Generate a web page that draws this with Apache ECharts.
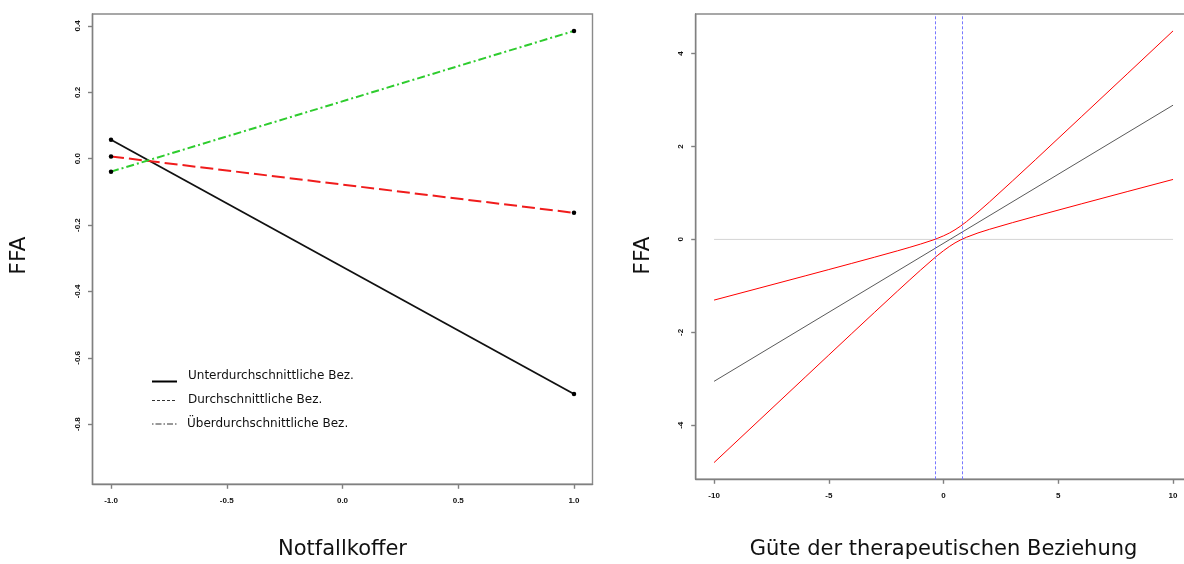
<!DOCTYPE html>
<html>
<head>
<meta charset="utf-8">
<script src="https://cdn.jsdelivr.net/npm/echarts@6/dist/echarts.min.js"></script>
<style>
html,body{margin:0;padding:0;background:#fff;}
#chart{width:1184px;height:564px;}
</style>
</head>
<body>
<div id="chart"></div>
<script>
// ---- Left panel data (Notfallkoffer) ----
const notfallX = [-1, 1];
const unterValues = [0.057, -0.709];
const durchValues = [0.007, -0.163];
const ueberValues = [-0.039, 0.385];
const leftXTicks = [-1, -0.5, 0, 0.5, 1];
const leftYTicks = [-0.8, -0.6, -0.4, -0.2, 0, 0.2, 0.4];
const legendNames = ['Unterdurchschnittliche Bez.', 'Durchschnittliche Bez.', 'Überdurchschnittliche Bez.'];

// ---- Right panel data (Güte der therapeutischen Beziehung) ----
const guteX = [-10, -8, -6, -5, -4, -3, -2, -1.5, -1, -0.5, -0.36, -0.25, 0, 0.25, 0.5, 0.75, 0.82, 1, 1.5, 2, 3, 4, 6, 8, 10];
const upperBand = [-1.306, -1.044, -0.781, -0.649, -0.516, -0.382, -0.245, -0.174, -0.100, -0.020, 0.005, 0.026, 0.077, 0.136, 0.207, 0.289, 0.314, 0.382, 0.588, 0.805, 1.256, 1.713, 2.636, 3.560, 4.486];
const lowerBand = [-4.802, -3.876, -2.951, -2.488, -2.026, -1.566, -1.109, -0.883, -0.660, -0.444, -0.385, -0.340, -0.243, -0.154, -0.075, -0.009, 0.007, 0.046, 0.139, 0.217, 0.360, 0.497, 0.764, 1.028, 1.290];
const regX = [-10, 10];
const regY = [-3.054, 2.888];
const zeroX = [-10, 10];
const zeroY = [0, 0];
const jnBounds = [-0.36, 0.83];
const rightXTicks = [-10, -5, 0, 5, 10];
const rightYTicks = [-4, -2, 0, 2, 4];

const pairs = (xs, ys) => xs.map((x, i) => [x, ys[i]]);

const tickFont = {fontFamily: 'Liberation Sans', fontWeight: 'bold', fontSize: 8, color: '#111'};
const axisLineStyle = {color: '#808080', width: 1.4};
const titleFont = 'DejaVu Sans';

function xAxisCfg(gridIndex, min, max, ticks, fmt, name, gap) {
  return {
    type: 'value', gridIndex, min, max,
    splitLine: {show: false},
    axisLine: {show: true, onZero: false, lineStyle: axisLineStyle},
    axisTick: {show: true, length: 4.5, lineStyle: axisLineStyle, customValues: ticks},
    axisLabel: Object.assign({margin: 12.5, customValues: ticks, formatter: fmt}, tickFont),
    name, nameLocation: 'middle', nameGap: gap,
    nameTextStyle: {fontFamily: titleFont, fontSize: 21, color: '#111'}
  };
}
function yAxisCfg(gridIndex, min, max, ticks, fmt) {
  return {
    type: 'value', gridIndex, min, max,
    splitLine: {show: false},
    axisLine: {show: true, onZero: false, lineStyle: axisLineStyle},
    axisTick: {show: true, length: 4.5, lineStyle: axisLineStyle, customValues: ticks},
    axisLabel: Object.assign({margin: 10.5, rotate: 90, customValues: ticks, formatter: fmt}, tickFont)
  };
}

const chart = echarts.init(document.getElementById('chart'));
const option = {
  backgroundColor: '#fff',
  animation: false,
  grid: [
    {left: 92.5, top: 14, width: 500, height: 470.3, show: true, borderColor: '#8a8a8a', borderWidth: 1.4, containLabel: false, outerBoundsMode: 'none'},
    {left: 695.7, top: 14, width: 495.7, height: 465.3, show: true, borderColor: '#8a8a8a', borderWidth: 1.4, containLabel: false, outerBoundsMode: 'none'}
  ],
  xAxis: [
    xAxisCfg(0, -1.08, 1.08, leftXTicks, v => v.toFixed(1), 'Notfallkoffer', 55),
    xAxisCfg(1, -10.8, 10.8, rightXTicks, v => String(v), 'Güte der therapeutischen Beziehung', 60)
  ],
  yAxis: [
    yAxisCfg(0, -0.981, 0.436, leftYTicks, v => v.toFixed(1)),
    yAxisCfg(1, -5.162, 4.85, rightYTicks, v => String(v))
  ],
  series: [
    {name: legendNames[0], type: 'line', xAxisIndex: 0, yAxisIndex: 0, data: pairs(notfallX, unterValues),
     lineStyle: {color: '#111', width: 1.8}, symbol: 'circle', symbolSize: 4.5, itemStyle: {color: '#000'}, z: 3},
    {name: legendNames[1], type: 'line', xAxisIndex: 0, yAxisIndex: 0, data: pairs(notfallX, durchValues),
     lineStyle: {color: '#f01c1c', width: 2, type: [13, 5]}, symbol: 'circle', symbolSize: 4.5, itemStyle: {color: '#000'}, z: 3},
    {name: legendNames[2], type: 'line', xAxisIndex: 0, yAxisIndex: 0, data: pairs(notfallX, ueberValues),
     lineStyle: {color: '#2ecc2e', width: 2, type: [8, 3, 2, 3]}, symbol: 'circle', symbolSize: 4.5, itemStyle: {color: '#000'}, z: 3},

    {name: 'zero', type: 'line', xAxisIndex: 1, yAxisIndex: 1, data: pairs(zeroX, zeroY),
     lineStyle: {color: '#d4d4d4', width: 1}, symbol: 'none', z: 1,
     markLine: {silent: true, symbol: 'none', label: {show: false},
       lineStyle: {color: '#7878ff', width: 1, type: [3, 2]},
       data: jnBounds.map(v => ({xAxis: v}))}},
    {name: 'fit', type: 'line', xAxisIndex: 1, yAxisIndex: 1, data: pairs(regX, regY),
     lineStyle: {color: '#5a5a5a', width: 1}, symbol: 'none', z: 2},
    {name: 'upper', type: 'line', xAxisIndex: 1, yAxisIndex: 1, data: pairs(guteX, upperBand),
     lineStyle: {color: '#ff0000', width: 1}, symbol: 'none', z: 3},
    {name: 'lower', type: 'line', xAxisIndex: 1, yAxisIndex: 1, data: pairs(guteX, lowerBand),
     lineStyle: {color: '#ff0000', width: 1}, symbol: 'none', z: 3}
  ],
  graphic: [
    {type: 'text', x: 19, y: 255.5, rotation: Math.PI / 2,
     style: {text: 'FFA', font: '22px "DejaVu Sans"', fill: '#111', align: 'center', verticalAlign: 'middle'}},
    {type: 'text', x: 643, y: 255.5, rotation: Math.PI / 2,
     style: {text: 'FFA', font: '22px "DejaVu Sans"', fill: '#111', align: 'center', verticalAlign: 'middle'}},
    // legend
    {type: 'line', shape: {x1: 152, y1: 381.5, x2: 177, y2: 381.5}, style: {stroke: '#000', lineWidth: 2}},
    {type: 'text', x: 188, y: 376, style: {text: legendNames[0], font: '12px "DejaVu Sans"', fill: '#111', verticalAlign: 'middle'}},
    {type: 'line', shape: {x1: 152, y1: 400.5, x2: 175, y2: 400.5}, style: {stroke: '#333', lineWidth: 1, lineDash: [3, 2]}},
    {type: 'text', x: 188, y: 400, style: {text: legendNames[1], font: '12px "DejaVu Sans"', fill: '#111', verticalAlign: 'middle'}},
    {type: 'line', shape: {x1: 152, y1: 424, x2: 178, y2: 424}, style: {stroke: '#333', lineWidth: 1, lineDash: [1.5, 2, 6, 2]}},
    {type: 'text', x: 187, y: 424, style: {text: legendNames[2], font: '12px "DejaVu Sans"', fill: '#111', verticalAlign: 'middle'}}
  ]
};
chart.setOption(option);
</script>
</body>
</html>
